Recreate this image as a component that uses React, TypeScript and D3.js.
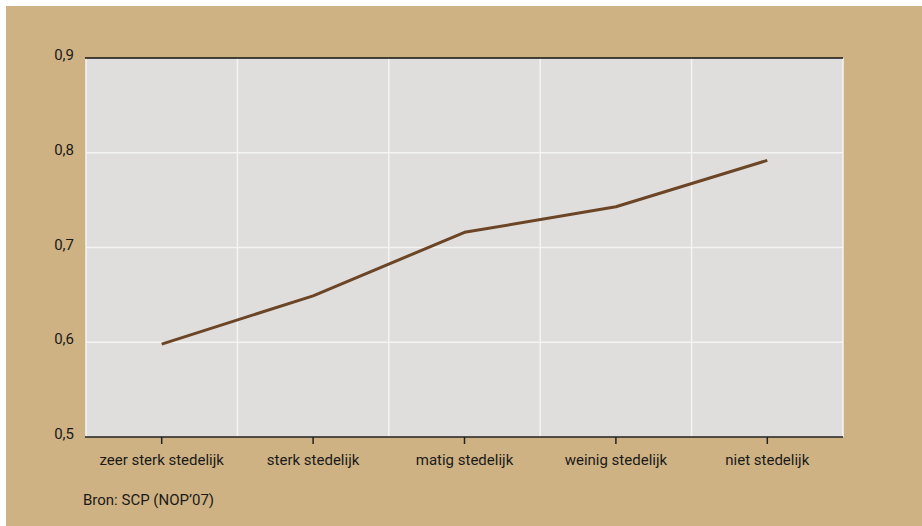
import React from "react";
import * as d3 from "d3";

const categories = ["zeer sterk stedelijk", "sterk stedelijk", "matig stedelijk", "weinig stedelijk", "niet stedelijk"];
const values = [0.598, 0.649, 0.716, 0.743, 0.792];
const yTicks = [0.5, 0.6, 0.7, 0.8, 0.9];
const yTickLabels = ["0,5", "0,6", "0,7", "0,8", "0,9"];
const sourceText = "Bron: SCP (NOP\u201907)";

const W = 922;
const H = 526;
const left = 86;
const right = 843;
const top = 58;
const bottom = 437;
const font = "'Liberation Sans Narrow', 'Roboto', 'DejaVu Sans Condensed', sans-serif";

export default function App() {
  const x = d3.scaleBand<string>().domain(categories).range([left, right]).padding(0);
  const y = d3.scaleLinear().domain([0.5, 0.9]).range([bottom, top]);
  const line = d3
    .line<number>()
    .x((_, i) => (x(categories[i]) as number) + x.bandwidth() / 2)
    .y((d) => y(d));
  const bounds = categories.slice(1).map((c) => x(c) as number);

  return (
    <svg width={W} height={H} style={{ position: "absolute", left: 0, top: 0, display: "block" }}>
      <rect x={0} y={0} width={W} height={H} fill="#ffffff" />
      <rect x={6} y={6} width={W - 6} height={H - 6} fill="#cfb283" />
      <rect x={left} y={top} width={right - left} height={bottom - top} fill="#dfdedc" />
      {yTicks.slice(1, -1).map((t) => (
        <line key={"h" + t} x1={left} x2={right} y1={y(t)} y2={y(t)} stroke="#f4f4f2" strokeWidth={1.5} />
      ))}
      {bounds.map((b, i) => (
        <line key={"v" + i} x1={b} x2={b} y1={top} y2={bottom} stroke="#f4f4f2" strokeWidth={1.5} />
      ))}
      <line x1={left} x2={left} y1={top} y2={bottom} stroke="#f4f4f2" strokeWidth={1.5} />
      <line x1={right} x2={right} y1={top} y2={bottom} stroke="#f4f4f2" strokeWidth={1.5} />
      <line x1={left - 1} x2={right} y1={top} y2={top} stroke="#111" strokeWidth={1.5} />
      <line x1={left - 1} x2={right} y1={bottom} y2={bottom} stroke="#222" strokeWidth={1.5} />
      {categories.map((c) => {
        const cx = (x(c) as number) + x.bandwidth() / 2;
        return (
          <g key={c}>
            <line x1={cx} x2={cx} y1={bottom} y2={bottom + 7} stroke="#222" strokeWidth={1.5} />
            <text x={cx} y={465} textAnchor="middle" fontFamily={font} fontSize={15} fill="#1a1a1a">
              {c}
            </text>
          </g>
        );
      })}
      {yTicks.map((t, i) => (
        <text key={"yl" + t} x={74} y={y(t) + 2} textAnchor="end" fontFamily={font} fontSize={15} fill="#1a1a1a">
          {yTickLabels[i]}
        </text>
      ))}
      <path d={line(values) as string} fill="none" stroke="#6b4525" strokeWidth={3} strokeLinejoin="round" />
      <text x={83} y={505} fontFamily={font} fontSize={15} fill="#1a1a1a">
        {sourceText}
      </text>
    </svg>
  );
}
